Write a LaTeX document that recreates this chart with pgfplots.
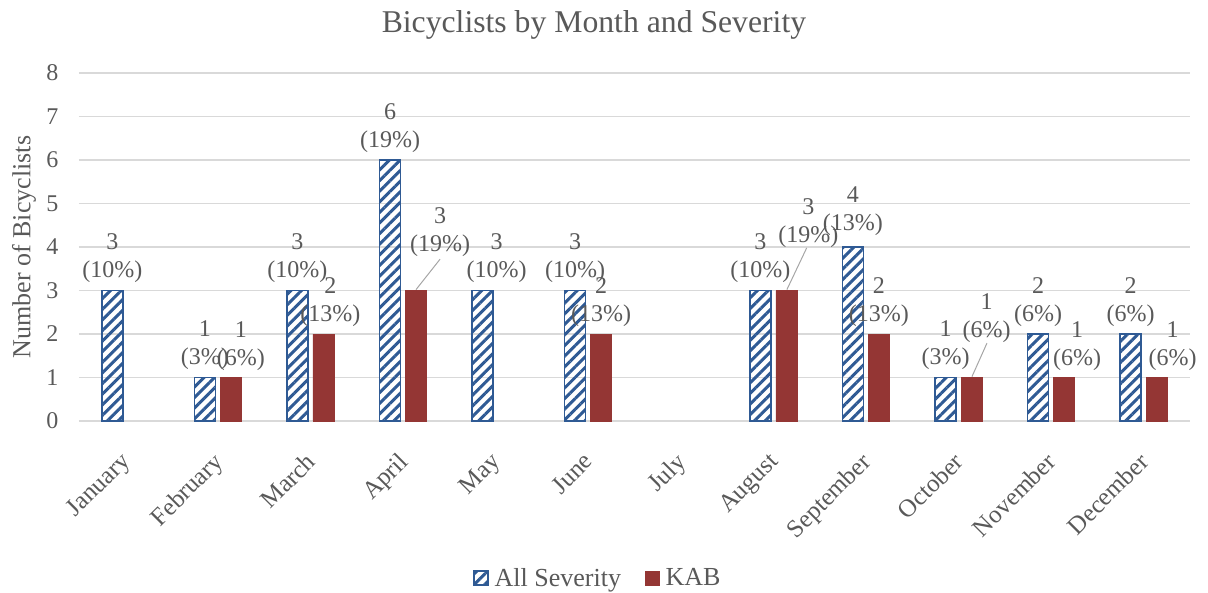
\documentclass[border=0pt]{standalone}
\usepackage{fontspec}
\setmainfont{Liberation Serif}
\usepackage{pgfplots}
\pgfplotsset{compat=1.18}
\usepackage{pgfplotstable}
\usetikzlibrary{patterns.meta}
\pgfkeys{/pgf/number format/assume math mode=true}
\definecolor{txt}{HTML}{595959}
\definecolor{allsev}{HTML}{2F5A94}
\definecolor{kab}{HTML}{943634}
\definecolor{gridc}{HTML}{D9D9D9}
\definecolor{leader}{HTML}{A6A6A6}

\pgfplotstableread{
x val pct dx dy
0 3 10 0 6
1 1 3 0 6
2 3 10 0 6
3 6 19 0 6
4 3 10 14 6
5 3 10 0 6
7 3 10 0 6
8 4 13 0 10
9 1 3 0 6
10 2 6 0 6
11 2 6 0 6
}\allsevtab

\pgfplotstableread{
x val pct dx dy
1 1 6 10 6
2 2 13 7 6
3 3 19 24 33
5 2 13 0 6
7 3 19 22 42
8 2 13 0 6
9 1 6 15 34
10 1 6 13 6
11 1 6 16 6
}\kabtab

\begin{document}
\begin{tikzpicture}
\useasboundingbox (0,0) rectangle (1208pt,592pt);
\begin{axis}[
  at={(79pt,171pt)}, anchor=south west,
  width=1111pt, height=348pt, scale only axis,
  xmin=-0.5, xmax=11.5, ymin=0, ymax=8,
  ytick={0,1,...,8},
  xtick={0,1,...,11},
  xticklabels={January,February,March,April,May,June,July,August,September,October,November,December},
  xticklabel style={rotate=45, anchor=north east, font=\fontsize{25}{30}\selectfont, text=txt, yshift=-13.6pt, xshift=-22pt},
  yticklabel style={font=\fontsize{24}{28}\selectfont, text=txt, xshift=-17pt},
  ymajorgrids, grid style={gridc, line width=1.3pt},
  axis line style={draw=none},
  major tick length=0pt,
  ybar, bar width=21pt,
  ylabel={Number of Bicyclists},
  ylabel style={at={(axis description cs:-0.0495,0.5)}, anchor=center, font=\fontsize{26}{30}\selectfont, text=txt},
  title={Bicyclists by Month and Severity},
  title style={at={(axis description cs:0.4635,1.098)}, anchor=base, yshift=0pt, font=\fontsize{31.7}{36}\selectfont, text=txt},
  legend style={draw=none, legend columns=2, at={(axis description cs:0.467,-0.451)}, anchor=center,
    font=\fontsize{26}{30}\selectfont, text=txt,
    /tikz/every odd column/.append style={column sep=4pt},
    /tikz/every even column/.append style={column sep=22pt}},
  legend image code/.code={\draw[#1] (0pt,-7pt) rectangle (14pt,7pt);},
]
\addplot[bar shift=-13pt, draw=allsev, line width=1.5pt,
  pattern={Lines[angle=45,distance=7.5pt,line width=3pt]}, pattern color=allsev,
  point meta=y,
  visualization depends on={\thisrow{pct} \as \mypct},
  visualization depends on={\thisrow{dx} \as \mydx},
  visualization depends on={\thisrow{dy} \as \mydy},
  nodes near coords={\pgfmathprintnumber{\pgfplotspointmeta}\\(\pgfmathprintnumber{\mypct}\%)},
  every node near coord/.append style={align=center, font=\fontsize{24}{28}\selectfont, text=txt, xshift=\mydx pt, yshift=\mydy pt, inner sep=1pt},
  ]
  table[x=x, y=val] {\allsevtab};
\addlegendentry{All Severity}
\addplot[bar shift=13pt, draw=kab, fill=kab, line width=0.5pt,
  point meta=y,
  visualization depends on={\thisrow{pct} \as \mypct},
  visualization depends on={\thisrow{dx} \as \mydx},
  visualization depends on={\thisrow{dy} \as \mydy},
  nodes near coords={\pgfmathprintnumber{\pgfplotspointmeta}\\(\pgfmathprintnumber{\mypct}\%)},
  every node near coord/.append style={align=center, font=\fontsize{24}{28}\selectfont, text=txt, xshift=\mydx pt, yshift=\mydy pt, inner sep=1pt},
  ]
  table[x=x, y=val] {\kabtab};
\addlegendentry{KAB}
\draw[leader, line width=1pt] (axis cs:3.14,3.02) -- (axis cs:3.40,3.72);
\draw[leader, line width=1pt] (axis cs:7.146,3.02) -- (axis cs:7.36,3.98);
\draw[leader, line width=1pt] (axis cs:9.145,1.02) -- (axis cs:9.307,1.79);
\end{axis}
\end{tikzpicture}
\end{document}
